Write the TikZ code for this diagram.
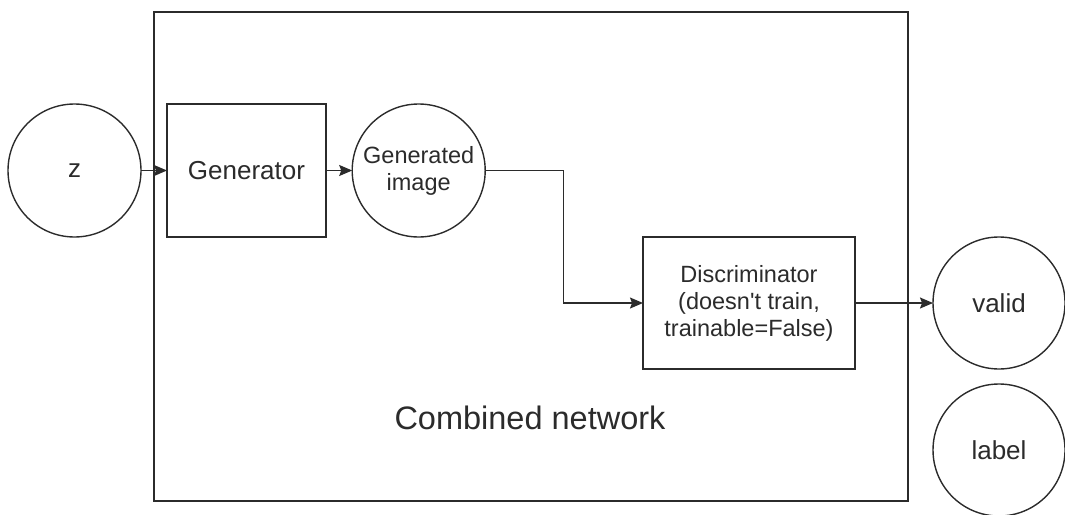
\documentclass[tikz,border=0pt]{standalone}
\usepackage{fontspec}
\setmainfont{Liberation Sans}
\usetikzlibrary{arrows.meta}
\definecolor{ink}{HTML}{2B2B2B}
\tikzset{
  blk/.style={draw=ink, line width=1.4pt, text=ink, align=center, inner sep=0pt, outer sep=0pt},
  roundnode/.style={blk, circle, minimum size=133pt},
  boxnode/.style={blk, rectangle},
  bigfont/.style={font=\fontsize{26}{30}\selectfont},
  smallfont/.style={font=\fontsize{23.5}{27}\selectfont},
  link/.style={draw=ink, line width=1.4pt, -{Stealth[length=13pt,width=11pt,inset=2pt]}},
}
\begin{document}
\begin{tikzpicture}[x=1pt, y=-1pt]
  \useasboundingbox (0,0) rectangle (1065,514);
  % outer frame of the combined model
  \node[boxnode, minimum width=754pt, minimum height=489pt] (frame) at (531,256.5) {};
  \node[text=ink, font=\fontsize{32.5}{38}\selectfont] (frametitle) at (530,418) {Combined network};

  \node[roundnode, bigfont] (z) at (74.5,170.5) {z};
  \node[boxnode, bigfont, minimum width=159pt, minimum height=133pt] (gen) at (246.5,170.5) {Generator};
  \node[roundnode, smallfont] (img) at (418.7,170.5) {Generated\\image};
  \node[boxnode, smallfont, minimum width=212pt, minimum height=132pt] (disc) at (749,303) {Discriminator\\(doesn\textquotesingle t train,\\trainable=False)};
  \node[roundnode, bigfont, minimum size=132pt] (valid) at (999,303) {valid};
  \node[roundnode, bigfont, minimum size=132pt] (label) at (999,450) {label};

  \draw[link] (z.east) -- (gen.west);
  \draw[link] (gen.east) -- (img.west);
  \draw[link] (img.east) -- ++(78,0) |- (disc.west);
  \draw[link] (disc.east) -- (valid.west);
\end{tikzpicture}
\end{document}
